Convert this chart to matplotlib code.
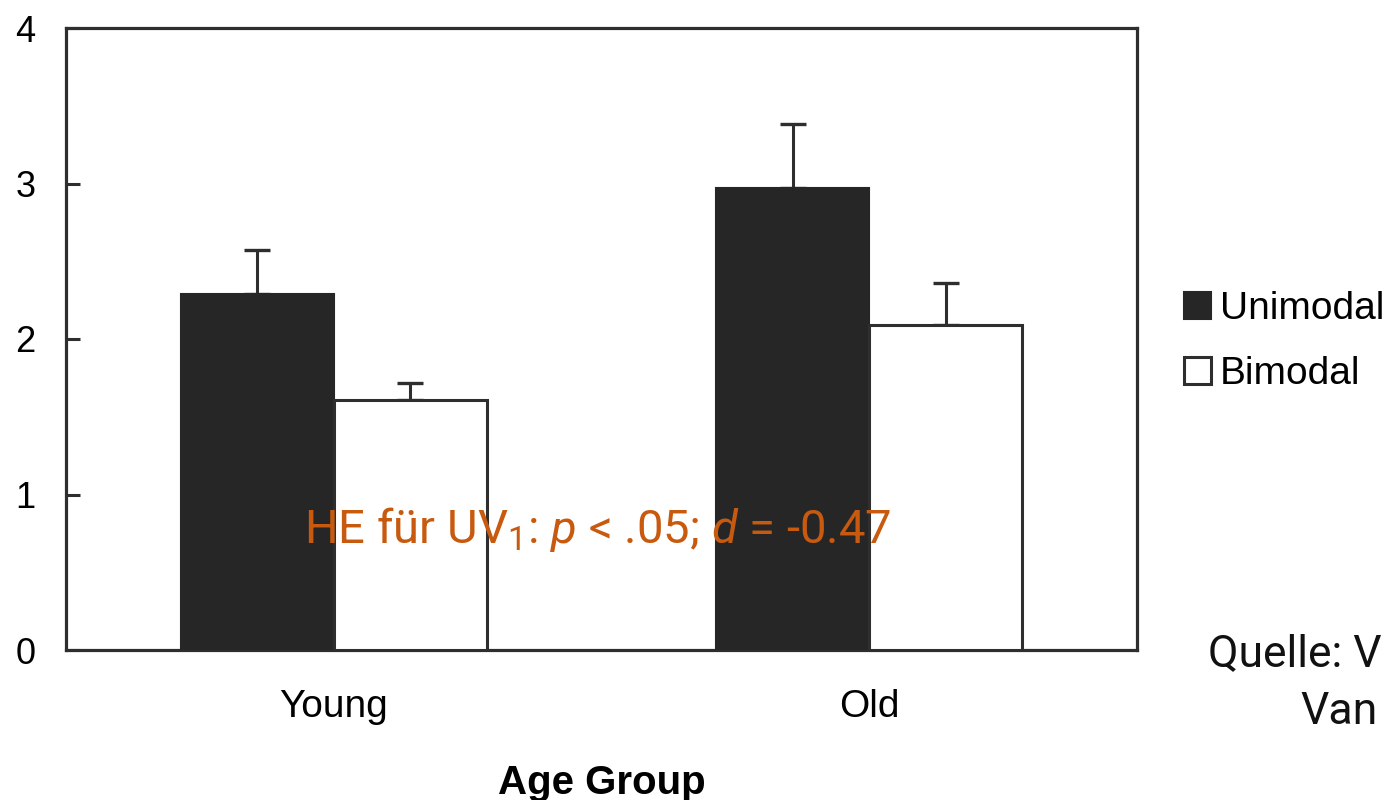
import matplotlib
matplotlib.use("Agg")
import matplotlib.pyplot as plt
import numpy as np

# Data
groups = ["Young", "Old"]
series = ["Unimodal", "Bimodal"]
unimodal_mean = [2.29, 2.97]
unimodal_err = [0.28, 0.41]
bimodal_mean = [1.61, 2.09]
bimodal_err = [0.11, 0.27]
y_ticks = [0, 1, 2, 3, 4]

plt.rcParams['mathtext.fontset'] = 'custom'
plt.rcParams['mathtext.rm'] = 'Roboto'
plt.rcParams['mathtext.it'] = 'Roboto:italic'

W, H = 1393, 800
fig = plt.figure(figsize=(W / 100, H / 100), dpi=100)
ax = fig.add_axes([66 / W, 1 - 650 / H, (1137 - 66) / W, (650 - 28) / H])

dark = '#262626'
edge = '#2e2e2e'
x = np.arange(len(groups))
bw = 0.286

b1 = ax.bar(x - bw / 2, unimodal_mean, bw, color=dark, edgecolor=dark, linewidth=1.5, zorder=3, label=series[0])
b2 = ax.bar(x + bw / 2, bimodal_mean, bw, color='white', edgecolor=edge, linewidth=2.2, zorder=3, label=series[1])

ax.errorbar(x - bw / 2, unimodal_mean, yerr=[np.zeros(2), unimodal_err], fmt='none',
            ecolor=edge, elinewidth=2.2, capsize=9.5, capthick=2.4, zorder=2)
ax.errorbar(x + bw / 2, bimodal_mean, yerr=[np.zeros(2), bimodal_err], fmt='none',
            ecolor=edge, elinewidth=2.2, capsize=9.5, capthick=2.4, zorder=2)

ax.set_xlim(-0.5, 1.5)
ax.set_ylim(0, 4)
ax.set_yticks(y_ticks)
ax.set_yticklabels([str(t) for t in y_ticks], fontsize=26, family='Liberation Sans')
ax.set_xticks(x)
ax.set_xticklabels(groups, fontsize=28, family='Liberation Sans')
ax.tick_params(axis='y', direction='in', length=10, width=2.2, color=edge, pad=22)
ax.tick_params(axis='x', length=0, pad=28)
for s in ax.spines.values():
    s.set_linewidth(2.3)
    s.set_color(edge)

ax.set_xlabel("Age Group", fontsize=29, fontweight='bold', family='Liberation Sans', labelpad=28)

leg = ax.legend(handles=[b1, b2], labels=series, loc='upper left',
                bbox_to_anchor=(1184 / W, 1 - 291 / H), bbox_transform=fig.transFigure,
                frameon=False, borderpad=0, borderaxespad=0, handlelength=0.7, handleheight=0.7,
                handletextpad=0.22, labelspacing=0.74, prop={'family': 'Liberation Sans', 'size': 28})

fig.text(598 / W, 1 - 543 / H, r"HE für UV$_\mathregular{1}$: $\mathit{p}$ < .05; $\mathit{d}$ = -0.47",
         ha='center', va='baseline', fontsize=34, family='Roboto', color='#c85a10', zorder=10)

fig.text(1208 / W, 1 - 666 / H, "Quelle: V", ha='left', va='baseline', fontsize=32, family='Roboto', color='#111111')
fig.text(1300 / W, 1 - 724 / H, "Van", ha='left', va='baseline', fontsize=32, family='Roboto', color='#111111')

fig.savefig("out.png", dpi=100)
